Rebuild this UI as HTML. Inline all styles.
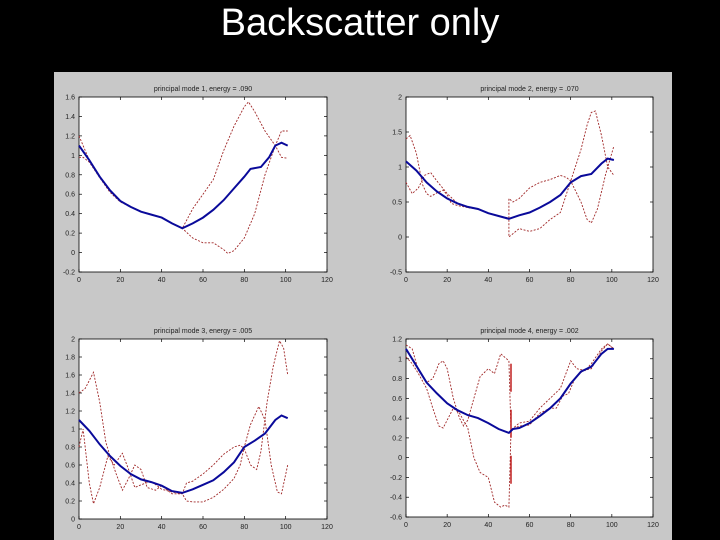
<!DOCTYPE html>
<html><head><meta charset="utf-8"><style>
html,body{margin:0;padding:0;background:#000;width:720px;height:540px;overflow:hidden}
#title{position:absolute;left:0;top:2px;width:720px;text-align:center;color:#fff;font:38px "Liberation Sans",sans-serif}
svg{position:absolute;left:0;top:0}
</style></head><body>
<div id="title">Backscatter only</div>
<svg id="fig" width="720" height="540"></svg>
<script>
const panelTitles=["principal mode 1, energy = .090","principal mode 2, energy = .070","principal mode 3, energy = .005","principal mode 4, energy = .002"];
const xTicks=[0,20,40,60,80,100,120];
const yTicks1=[-0.2,0,0.2,0.4,0.6,0.8,1,1.2,1.4,1.6];
const yTicks2=[-0.5,0,0.5,1,1.5,2];
const yTicks3=[0,0.2,0.4,0.6,0.8,1,1.2,1.4,1.6,1.8,2];
const yTicks4=[-0.6,-0.4,-0.2,0,0.2,0.4,0.6,0.8,1,1.2];
// panel 1
const mean1=[[0,1.1],[5,0.95],[10,0.78],[15,0.64],[20,0.53],[25,0.47],[30,0.42],[35,0.39],[40,0.36],[45,0.3],[50,0.25],[55,0.3],[60,0.36],[65,0.44],[70,0.54],[75,0.66],[80,0.78],[83,0.86],[88,0.88],[92,0.98],[95,1.1],[98,1.13],[101,1.1]];
const up1=[[0,1.2],[5,0.95],[10,0.78],[15,0.64],[20,0.53],[25,0.47],[30,0.42],[35,0.39],[40,0.36],[45,0.3],[50,0.25],[52,0.33],[55,0.45],[60,0.6],[65,0.75],[70,1.05],[75,1.3],[80,1.5],[82,1.55],[85,1.45],[90,1.25],[95,1.1],[98,0.98],[101,0.97]];
const lo1=[[0,0.98],[2,0.98],[5,0.93],[10,0.77],[15,0.62],[20,0.52],[25,0.47],[30,0.42],[35,0.39],[40,0.36],[45,0.3],[50,0.25],[55,0.15],[60,0.1],[65,0.1],[70,0.03],[72,-0.01],[75,0.02],[80,0.15],[85,0.4],[90,0.8],[95,1.1],[98,1.25],[101,1.25]];
// panel 2
const mean2=[[0,1.08],[5,0.95],[10,0.78],[15,0.65],[20,0.55],[25,0.48],[30,0.43],[35,0.4],[40,0.34],[45,0.3],[50,0.26],[55,0.31],[60,0.35],[65,0.42],[70,0.5],[75,0.6],[80,0.78],[85,0.87],[90,0.9],[95,1.05],[98,1.12],[101,1.1]];
const up2=[[0,0.78],[3,0.62],[6,0.7],[9,0.88],[12,0.92],[15,0.8],[20,0.62],[25,0.48],[30,0.42],[35,0.4],[40,0.34],[45,0.3],[50,0.27],[50,0.55],[52,0.5],[55,0.55],[60,0.7],[65,0.78],[70,0.82],[75,0.88],[78,0.85],[80,0.8],[85,0.5],[88,0.25],[90,0.2],[93,0.4],[97,0.9],[101,1.3]];
const lo2=[[0,1.4],[2,1.45],[5,1.2],[8,0.75],[10,0.62],[12,0.58],[15,0.63],[18,0.67],[20,0.6],[22,0.48],[25,0.45],[30,0.42],[35,0.4],[40,0.34],[45,0.3],[50,0.25],[50,0.0],[55,0.12],[60,0.08],[65,0.12],[70,0.25],[75,0.35],[80,0.8],[85,1.25],[88,1.6],[90,1.78],[92,1.8],[95,1.45],[98,1.0],[101,0.88]];
// panel 3
const mean3=[[0,1.1],[5,0.98],[10,0.83],[15,0.7],[20,0.59],[25,0.5],[30,0.44],[35,0.41],[40,0.37],[45,0.31],[50,0.29],[55,0.33],[60,0.38],[65,0.43],[70,0.52],[75,0.63],[80,0.8],[85,0.87],[90,0.95],[95,1.1],[98,1.15],[101,1.12]];
const up3=[[0,1.4],[3,1.45],[7,1.63],[10,1.3],[13,0.85],[15,0.7],[18,0.5],[21,0.32],[24,0.45],[27,0.6],[30,0.55],[33,0.35],[37,0.32],[40,0.37],[45,0.28],[50,0.28],[52,0.4],[55,0.42],[60,0.5],[65,0.6],[70,0.72],[75,0.8],[78,0.82],[80,0.78],[83,0.6],[86,0.55],[88,0.75],[91,1.3],[94,1.7],[97,1.98],[99,1.9],[101,1.6]];
const lo3=[[0,0.8],[2,1.0],[5,0.4],[7,0.17],[10,0.35],[14,0.7],[17,0.6],[21,0.73],[24,0.55],[27,0.35],[30,0.38],[35,0.42],[40,0.33],[45,0.3],[50,0.28],[52,0.2],[55,0.19],[60,0.19],[65,0.24],[70,0.33],[75,0.45],[78,0.6],[80,0.8],[83,1.05],[87,1.25],[90,1.1],[93,0.6],[96,0.3],[98,0.28],[101,0.6]];
// panel 4
const mean4=[[0,1.1],[5,0.93],[10,0.76],[15,0.65],[20,0.55],[25,0.48],[30,0.43],[35,0.4],[40,0.35],[45,0.29],[50,0.25],[52,0.29],[55,0.3],[60,0.35],[65,0.42],[70,0.5],[75,0.6],[80,0.75],[85,0.87],[90,0.92],[95,1.05],[98,1.1],[101,1.1]];
const up4=[[0,1.14],[3,1.1],[6,0.88],[10,0.76],[13,0.8],[16,0.95],[18,0.98],[20,0.9],[23,0.6],[26,0.4],[28,0.32],[30,0.38],[33,0.6],[36,0.82],[40,0.9],[43,0.85],[46,1.05],[50,0.98],[51,0.28],[55,0.35],[60,0.37],[65,0.5],[70,0.6],[75,0.7],[80,0.98],[83,0.9],[87,0.88],[90,0.95],[95,1.1],[98,1.15],[101,1.1]];
const lo4=[[0,1.02],[3,0.95],[6,0.85],[10,0.7],[13,0.5],[16,0.32],[18,0.3],[20,0.38],[23,0.5],[26,0.45],[30,0.3],[33,0.0],[36,-0.15],[40,-0.2],[43,-0.45],[46,-0.5],[48,-0.48],[50,-0.5],[51,0.28],[55,0.32],[60,0.33],[63,0.4],[65,0.45],[70,0.5],[73,0.5],[76,0.62],[79,0.65],[82,0.8],[86,0.88],[90,0.9],[95,1.08],[98,1.15],[101,1.1]];
const vline4=[[51,0.95],[51,-0.4]];

const NS="http://www.w3.org/2000/svg";
const fig=document.getElementById('fig');
function mk(tag,attrs,parent){const e=document.createElementNS(NS,tag);for(const k in attrs)e.setAttribute(k,attrs[k]);(parent||fig).appendChild(e);return e;}
const bg=mk('rect',{x:54,y:72,width:618,height:468,fill:'#c8c8c8'});


const panels=[
 {l:79,r:327,t:97,b:272,y0:-0.2,y1:1.6,yt:yTicks1,m:mean1,u:up1,lo:lo1},
 {l:406,r:653,t:97,b:272,y0:-0.5,y1:2,yt:yTicks2,m:mean2,u:up2,lo:lo2},
 {l:79,r:327,t:339,b:519,y0:0,y1:2,yt:yTicks3,m:mean3,u:up3,lo:lo3},
 {l:406,r:653,t:339,b:517,y0:-0.6,y1:1.2,yt:yTicks4,m:mean4,u:up4,lo:lo4,v:vline4}
];
function fmt(v){return (Math.round(v*10)/10).toString();}
panels.forEach((p,i)=>{
 const g=mk('g',{});
 
 
 const sx=x=>p.l+(x-0)/(120-0)*(p.r-p.l);
 const sy=y=>p.b-(y-p.y0)/(p.y1-p.y0)*(p.b-p.t);
 const pl=mk('rect',{x:p.l,y:p.t,width:p.r-p.l,height:p.b-p.t,fill:'#fff',stroke:'#000','stroke-width':0.8},g);
 
 
 const tt=mk('text',{x:(p.l+p.r)/2,y:p.t-6,'text-anchor':'middle','font-size':7,fill:'#222','font-family':'Liberation Sans, sans-serif'},g);
 tt.textContent=panelTitles[i];
 
 
 xTicks.forEach(v=>{
  const x=sx(v);
  mk('line',{x1:x,x2:x,y1:p.b,y2:p.b-3,stroke:'#000','stroke-width':0.7},g);
  mk('line',{x1:x,x2:x,y1:p.t,y2:p.t+3,stroke:'#000','stroke-width':0.7},g);
  const t=mk('text',{x:x,y:p.b+10,'text-anchor':'middle','font-size':7,fill:'#222','font-family':'Liberation Sans, sans-serif'},g);
  t.textContent=v;
  
  
 });
 p.yt.forEach(v=>{
  const y=sy(v);
  mk('line',{x1:p.l,x2:p.l+3,y1:y,y2:y,stroke:'#000','stroke-width':0.7},g);
  mk('line',{x1:p.r,x2:p.r-3,y1:y,y2:y,stroke:'#000','stroke-width':0.7},g);
  const t=mk('text',{x:p.l-4,y:y+2.5,'text-anchor':'end','font-size':7,fill:'#222','font-family':'Liberation Sans, sans-serif'},g);
  t.textContent=fmt(v);
  
  
 });
 const pts=a=>a.map(d=>sx(d[0]).toFixed(1)+','+sy(d[1]).toFixed(1)).join(' ');
 const u=mk('polyline',{points:pts(p.u),fill:'none',stroke:'#a02828','stroke-width':0.9,'stroke-dasharray':'2,1.5'},g);
 
 
 const lo=mk('polyline',{points:pts(p.lo),fill:'none',stroke:'#a02828','stroke-width':0.9,'stroke-dasharray':'2,1.5'},g);
 
 
 if(p.v){
  const vl=mk('polyline',{points:pts(p.v),fill:'none',stroke:'#c02020','stroke-width':1.5,'stroke-dasharray':'28,18'},g);
  
  
 }
 const m=mk('polyline',{points:pts(p.m),fill:'none',stroke:'#0a0a9a','stroke-width':2},g);
 
 
});
</script>
</body></html>
